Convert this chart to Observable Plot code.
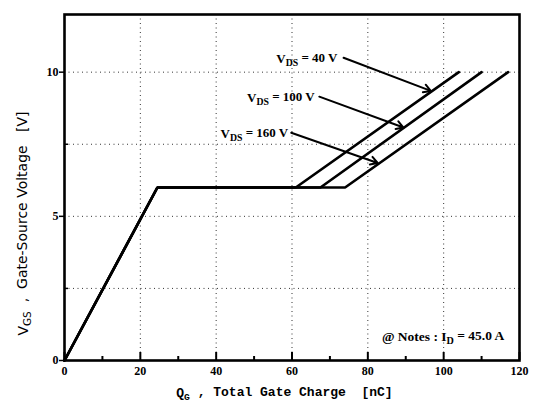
<!DOCTYPE html>
<html>
<head>
<meta charset="utf-8">
<script src="https://cdn.jsdelivr.net/npm/d3@7"></script>
<script src="https://cdn.jsdelivr.net/npm/@observablehq/plot@0.6"></script>
<style>
  html, body { margin: 0; padding: 0; background: #fff; }
  #chart svg { display: block; }
</style>
</head>
<body>
<div id="chart"></div>
<script>
// ---- data ----
const vgsPoints = [0, 6, 6, 10];
const qg40  = [0, 24.5, 61, 104];
const qg100 = [0, 24.5, 67.5, 110];
const qg160 = [0, 24.5, 74, 117];

const seriesNames = ["40", "100", "160"];

// annotation labels (text, text anchor point, arrow start, arrow end) in data units
const labelTexts = ["V_{DS} = 40 V", "V_{DS} = 100 V", "V_{DS} = 160 V"];
const labelX = [72, 66, 59];
const labelY = [10.45, 9.1, 7.85];
const arrowX1 = [73.6, 67.2, 59.8];
const arrowY1 = [10.5, 9.15, 7.9];
const arrowX2 = [96.6, 89.4, 82.6];
const arrowY2 = [9.35, 8.08, 6.85];

const xTicks = [0, 20, 40, 60, 80, 100, 120];
const xMinorTicks = [10, 30, 50, 70, 90, 110];
const yTicks = [0, 5, 10];
const yMinorTicks = [2.5, 7.5];
const xGrid = [20, 40, 60, 80, 100];
const yGrid = [2.5, 5, 7.5, 10];

const noteText = "@ Notes : I_{D} = 45.0 A";
const xLabel = "Q_{G} , Total Gate Charge  [nC]";
const yLabel = "V_{GS}  ,  Gate-Source Voltage   [V]";

// build table
const rows = [];
[qg40, qg100, qg160].forEach((qs, i) => {
  qs.forEach((q, j) => rows.push({series: seriesNames[i], q, v: vgsPoints[j]}));
});
const labels = labelTexts.map((t, i) => ({t, x: labelX[i], y: labelY[i],
  x1: arrowX1[i], y1: arrowY1[i], x2: arrowX2[i], y2: arrowY2[i]}));

const serif = "Liberation Serif, DejaVu Serif, serif";
const mono = "Liberation Mono, DejaVu Sans Mono, monospace";
const sans = "DejaVu Sans, Verdana, sans-serif";

const chart = Plot.plot({
  width: 544,
  height: 404,
  marginLeft: 64,
  marginRight: 25,
  marginTop: 14,
  marginBottom: 44,
  style: {background: "#fff", color: "#000", fontFamily: serif},
  x: {domain: [0, 120]},
  y: {domain: [0, 12]},
  marks: [
    Plot.ruleX(xGrid, {stroke: "#000", strokeWidth: 1, strokeDasharray: "1,3.5", strokeOpacity: 0.8}),
    Plot.ruleY(yGrid, {stroke: "#000", strokeWidth: 1, strokeDasharray: "1,3.5", strokeOpacity: 0.8}),
    // axes
    Plot.axisX({ticks: xTicks, tickSize: -8, strokeWidth: 2, text: null, label: null}),
    Plot.axisX({ticks: xMinorTicks, tickSize: -4, strokeWidth: 2, text: null, label: null}),
    Plot.axisX({ticks: xTicks, tickSize: 0, tickPadding: 6, label: null, fontSize: 12, fontWeight: "bold", fontFamily: serif}),
    Plot.axisY({ticks: yTicks, tickSize: 5, tickPadding: 1, strokeWidth: 1.5, label: null, fontSize: 12, fontWeight: "bold", fontFamily: serif}),
    Plot.axisY({ticks: yMinorTicks, tickSize: -4, strokeWidth: 1.5, text: null, label: null}),
    Plot.frame({stroke: "#000", strokeWidth: 2.6}),
    // curves
    Plot.line(rows, {x: "q", y: "v", z: "series", stroke: "#000", strokeWidth: 2.6, strokeLinejoin: "miter"}),
    // annotations
    Plot.arrow(labels, {x1: "x1", y1: "y1", x2: "x2", y2: "y2", stroke: "#000", strokeWidth: 2, headLength: 6, bend: 0}),
    Plot.text(labels, {x: "x", y: "y", text: "t", textAnchor: "end", fontSize: 13, fontWeight: "bold", fontFamily: serif}),
    Plot.text([noteText], {x: 116, y: 0.82, textAnchor: "end", fontSize: 13.5, fontWeight: "bold", fontFamily: serif}),
    Plot.text([xLabel], {x: 58, y: -1.12, fontSize: 13, fontFamily: mono, fontWeight: "bold"}),
    Plot.text([yLabel], {x: -10.8, y: 4.75, rotate: -90, fontSize: 14, fontFamily: sans})
  ]
});

// turn "_{..}" into subscript tspans
d3.select(chart).selectAll("text").each(function() {
  const el = this;
  const s = el.textContent;
  if (!s || s.indexOf("_{") < 0) return;
  const parts = s.split(/(_\{[^}]*\})/);
  el.textContent = "";
  let shifted = false;
  for (const p of parts) {
    if (!p) continue;
    const t = document.createElementNS("http://www.w3.org/2000/svg", "tspan");
    const m = p.match(/^_\{([^}]*)\}$/);
    if (m) {
      t.textContent = m[1];
      t.setAttribute("dy", "0.3em");
      t.setAttribute("font-size", "0.75em");
      shifted = true;
    } else {
      t.textContent = p;
      if (shifted) { t.setAttribute("dy", "-0.3em"); shifted = false; }
    }
    el.appendChild(t);
  }
});
d3.select(chart).selectAll("text").style("white-space", "pre");

document.getElementById("chart").appendChild(chart);
</script>
</body>
</html>
